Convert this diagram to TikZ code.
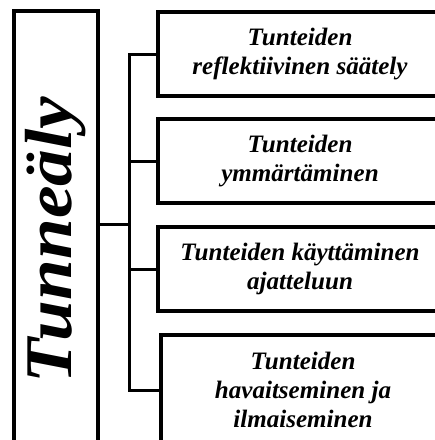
\documentclass[tikz,border=0pt]{standalone}
\usepackage{fontspec}
\setmainfont{Liberation Serif}
\usepackage{tikz}
\usetikzlibrary{positioning, calc}

\begin{document}
\begin{tikzpicture}[x=0.75pt, y=-0.75pt, node distance=17.25pt,
    font=\fontsize{18.8}{22}\selectfont\bfseries\itshape,
    topicbox/.style={draw, line width=3pt, minimum width=213pt, minimum height=63pt,
                     align=center, inner sep=0pt, outer sep=0pt},
    link/.style={line width=2.25pt}]
  \useasboundingbox (0,0) rectangle (435,440);
  \node[draw, line width=3pt, minimum width=63pt, minimum height=343.5pt, inner sep=0pt, outer sep=0pt]
    (main) at (56,240)
    {\rotatebox{90}{\scalebox{1.1}[1]{\fontsize{50}{54}\selectfont Tunneäly}}};
  \node[topicbox] (saately) at (300,54) {Tunteiden\\ reflektiivinen säätely};
  \node[topicbox, below=of saately] (ymmarr) {Tunteiden\\ ymmärtäminen};
  \node[topicbox, below=18pt of ymmarr] (kaytto) {Tunteiden käyttäminen\\ ajatteluun};
  \node[topicbox, minimum height=82.5pt, below=18pt of kaytto, xshift=2.25pt] (havaitse)
    {Tunteiden\\ havaitseminen ja\\ ilmaiseminen};
  \coordinate (hub) at (129,224);
  \draw[link] (main.east |- hub) -- (hub);
  \draw[link] (hub) |- (saately.west);
  \draw[link] (hub) |- (ymmarr.west);
  \draw[link] (hub) |- (kaytto.west);
  \draw[link] (hub) |- (havaitse.west);
\end{tikzpicture}
\end{document}
